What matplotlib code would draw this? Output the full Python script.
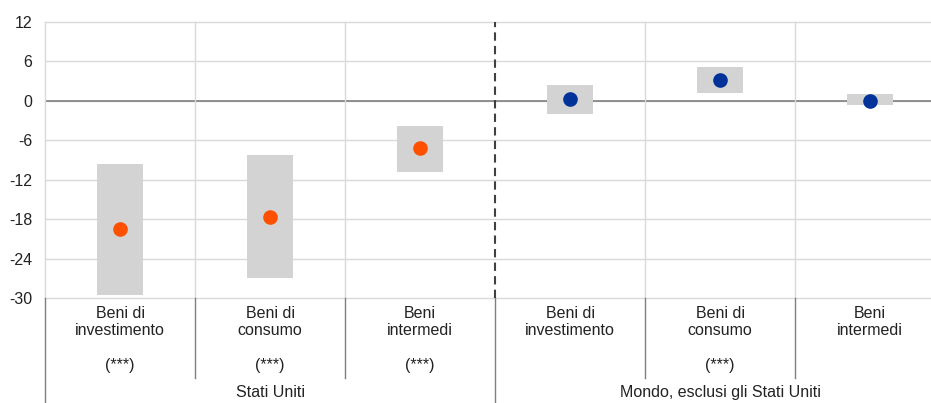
import matplotlib.pyplot as plt

plt.rcParams["font.family"] = ["Liberation Sans", "DejaVu Sans"]
plt.rcParams["axes.unicode_minus"] = False

# ── Data ─────────────────────────────────────────────────────────────
categories = ["Beni di\ninvestimento", "Beni di\nconsumo", "Beni\nintermedi",
              "Beni di\ninvestimento", "Beni di\nconsumo", "Beni\nintermedi"]
signif = ["(***)", "(***)", "(***)", "", "(***)", ""]
groups = ["Stati Uniti", "Mondo, esclusi gli Stati Uniti"]
range_low = [-29.5, -26.9, -10.8, -2.0, 1.2, -0.65]
range_high = [-9.6, -8.2, -3.8, 2.4, 5.2, 1.1]
point = [-19.5, -17.7, -7.2, 0.25, 3.2, 0.05]
point_colors = ["#FF5000", "#FF5000", "#FF5000", "#003299", "#003299", "#003299"]

# ── Figure ───────────────────────────────────────────────────────────
W, H = 931, 403
fig = plt.figure(figsize=(W / 100, H / 100), dpi=100)
ax = fig.add_axes([45 / W, (H - 298) / H, 900 / W, 276 / H])

x = list(range(len(categories)))
heights = [h - l for h, l in zip(range_high, range_low)]
ax.bar(x, heights, bottom=range_low, width=0.31, color="#D3D3D3", zorder=2)
for xi, p, c in zip(x, point, point_colors):
    ax.plot(xi, p, "o", color=c, markersize=9.5, zorder=3)

ax.set_xlim(-0.5, 5.5)
ax.set_ylim(-30, 12)
ax.set_yticks(range(-30, 13, 6))
ax.tick_params(axis="y", length=0, labelsize=11.5, colors="#222222", pad=9)
ax.set_xticks([])
for s in ax.spines.values():
    s.set_visible(False)

# grid
for yv in range(-30, 13, 6):
    ax.axhline(yv, color="#D9D9D9", lw=1, zorder=1, clip_on=False)
ax.axhline(0, color="#7F7F7F", lw=1.2, zorder=1)
for b in [-0.5, 0.5, 1.5, 3.5, 4.5]:
    ax.axvline(b, color="#D9D9D9", lw=1, zorder=1, clip_on=False)
ax.axvline(2.5, color="#404040", lw=1.5, ls=(0, (4, 2.5)), zorder=4)

# category axis (two levels)
tr = ax.get_xaxis_transform()
for b in [0.5, 1.5, 3.5, 4.5]:
    ax.plot([b, b], [0, -0.29], color="#7F7F7F", lw=1, transform=tr, clip_on=False)
for b in [-0.5, 2.5, 5.5]:
    ax.plot([b, b], [0, -0.40], color="#7F7F7F", lw=1, transform=tr, clip_on=False)

for xi, lab, s in zip(x, categories, signif):
    ax.text(xi, -0.087, lab, transform=tr, ha="center", va="center",
            fontsize=11.5, color="#222222", linespacing=1.15)
    if s:
        ax.text(xi, -0.243, s, transform=tr, ha="center", va="center",
                fontsize=11.5, color="#222222")
for gi, g in enumerate(groups):
    ax.text(1 + 3 * gi, -0.344, g, transform=tr, ha="center", va="center",
            fontsize=11.5, color="#222222")

fig.savefig("out.png", dpi=100)
